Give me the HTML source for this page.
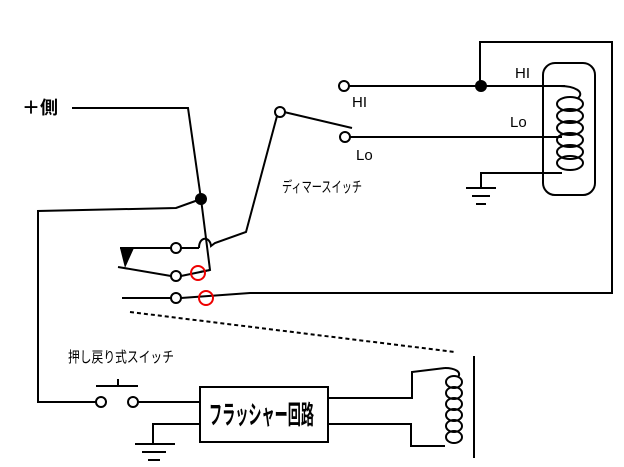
<!DOCTYPE html>
<html><head><meta charset="utf-8"><style>html,body{margin:0;padding:0;background:#fff}svg{display:block}</style></head><body>
<svg width="624" height="467" viewBox="0 0 624 467" xmlns="http://www.w3.org/2000/svg" font-family="Liberation Sans, Noto Sans CJK JP, sans-serif">
<g fill="none" stroke="#000" stroke-width="2">
<polyline points="72,108 188,108 201,199 210,270 200,272"/>
<polyline points="201,199 176,208 38,211 38,402 96,402"/>
<polyline points="120,248 171,248"/>
<polyline points="181,248 199,248"/>
<path d="M199,248 C199,236 210,236 211,246 L215,243 L246,232 L277,116"/>
<line x1="284" y1="112" x2="352" y2="128"/>
<polyline points="118,267 171,276"/>
<polyline points="181,276 210,270"/>
<polyline points="122,298 171,298"/>
<polyline points="181,298 250,293 612,293 612,42 480,42 480,86"/>
<line x1="349" y1="86" x2="565" y2="86"/>
<line x1="350" y1="137" x2="562" y2="137"/>
<rect x="543" y="63" width="52" height="132" rx="12"/>
<path d="M560,86 C575,86 585,92 578,98"/>
<ellipse cx="570" cy="104" rx="13" ry="7"/>
<ellipse cx="570" cy="116" rx="13" ry="7"/>
<ellipse cx="570" cy="128" rx="13" ry="7"/>
<ellipse cx="570" cy="140" rx="13" ry="7"/>
<ellipse cx="570" cy="152" rx="13" ry="7"/>
<ellipse cx="570" cy="163" rx="13" ry="7"/>
<polyline points="562,173 481,173 481,187"/>
<line x1="466" y1="188" x2="496" y2="188"/>
<line x1="472" y1="196" x2="490" y2="196"/>
<line x1="476" y1="204" x2="486" y2="204"/>
<line x1="96" y1="386" x2="138" y2="386"/>
<line x1="118" y1="379" x2="118" y2="386"/>
<line x1="137" y1="402" x2="200" y2="402"/>
<rect x="200" y="387" width="128" height="55"/>
<polyline points="328,398 412,398 412,372 445,368"/>
<polyline points="328,424 411,424 411,446 445,446"/>
<path d="M445,368 C455,368 462,372 458,377"/>
<ellipse cx="454" cy="382" rx="8" ry="6"/>
<ellipse cx="454" cy="393" rx="8" ry="6"/>
<ellipse cx="454" cy="404" rx="8" ry="6"/>
<ellipse cx="454" cy="415" rx="8" ry="6"/>
<ellipse cx="454" cy="426" rx="8" ry="6"/>
<ellipse cx="454" cy="437" rx="8" ry="6"/>
<line x1="474" y1="356" x2="474" y2="458"/>
<polyline points="200,424 153,424 153,444"/>
<line x1="135" y1="444" x2="175" y2="444"/>
<line x1="142" y1="452" x2="166" y2="452"/>
<line x1="148" y1="460" x2="160" y2="460"/>
<line x1="130" y1="312" x2="455" y2="352" stroke-dasharray="4,3"/>
</g>
<g fill="#fff" stroke="#000" stroke-width="2">
<circle cx="176" cy="248" r="5"/><circle cx="176" cy="276" r="5"/><circle cx="176" cy="298" r="5"/>
<circle cx="280" cy="112" r="5"/><circle cx="344" cy="86" r="5"/><circle cx="345" cy="137" r="5"/>
<circle cx="101" cy="402" r="5"/><circle cx="133" cy="402" r="5"/>
</g>
<g fill="none" stroke="#e00" stroke-width="2">
<circle cx="198" cy="273" r="7"/><circle cx="206" cy="298" r="7"/>
</g>
<circle cx="201" cy="199" r="6"/>
<circle cx="481" cy="86" r="6"/>
<polygon points="120,248 134,248 125,268"/>
<g font-size="15">
<text x="22" y="114" font-size="18" font-weight="bold">＋側</text>
<text x="352" y="107">HI</text>
<text x="356" y="160">Lo</text>
<text x="515" y="78">HI</text>
<text x="510" y="127">Lo</text>
<text x="282" y="192" font-size="15" textLength="80" lengthAdjust="spacingAndGlyphs">ディマースイッチ</text>
<text x="68" y="362" font-size="15" textLength="106" lengthAdjust="spacingAndGlyphs">押し戻り式スイッチ</text>
<text x="209" y="424" font-size="26" font-weight="bold" textLength="105" lengthAdjust="spacingAndGlyphs">フラッシャー回路</text>
</g>
</svg>
</body></html>
